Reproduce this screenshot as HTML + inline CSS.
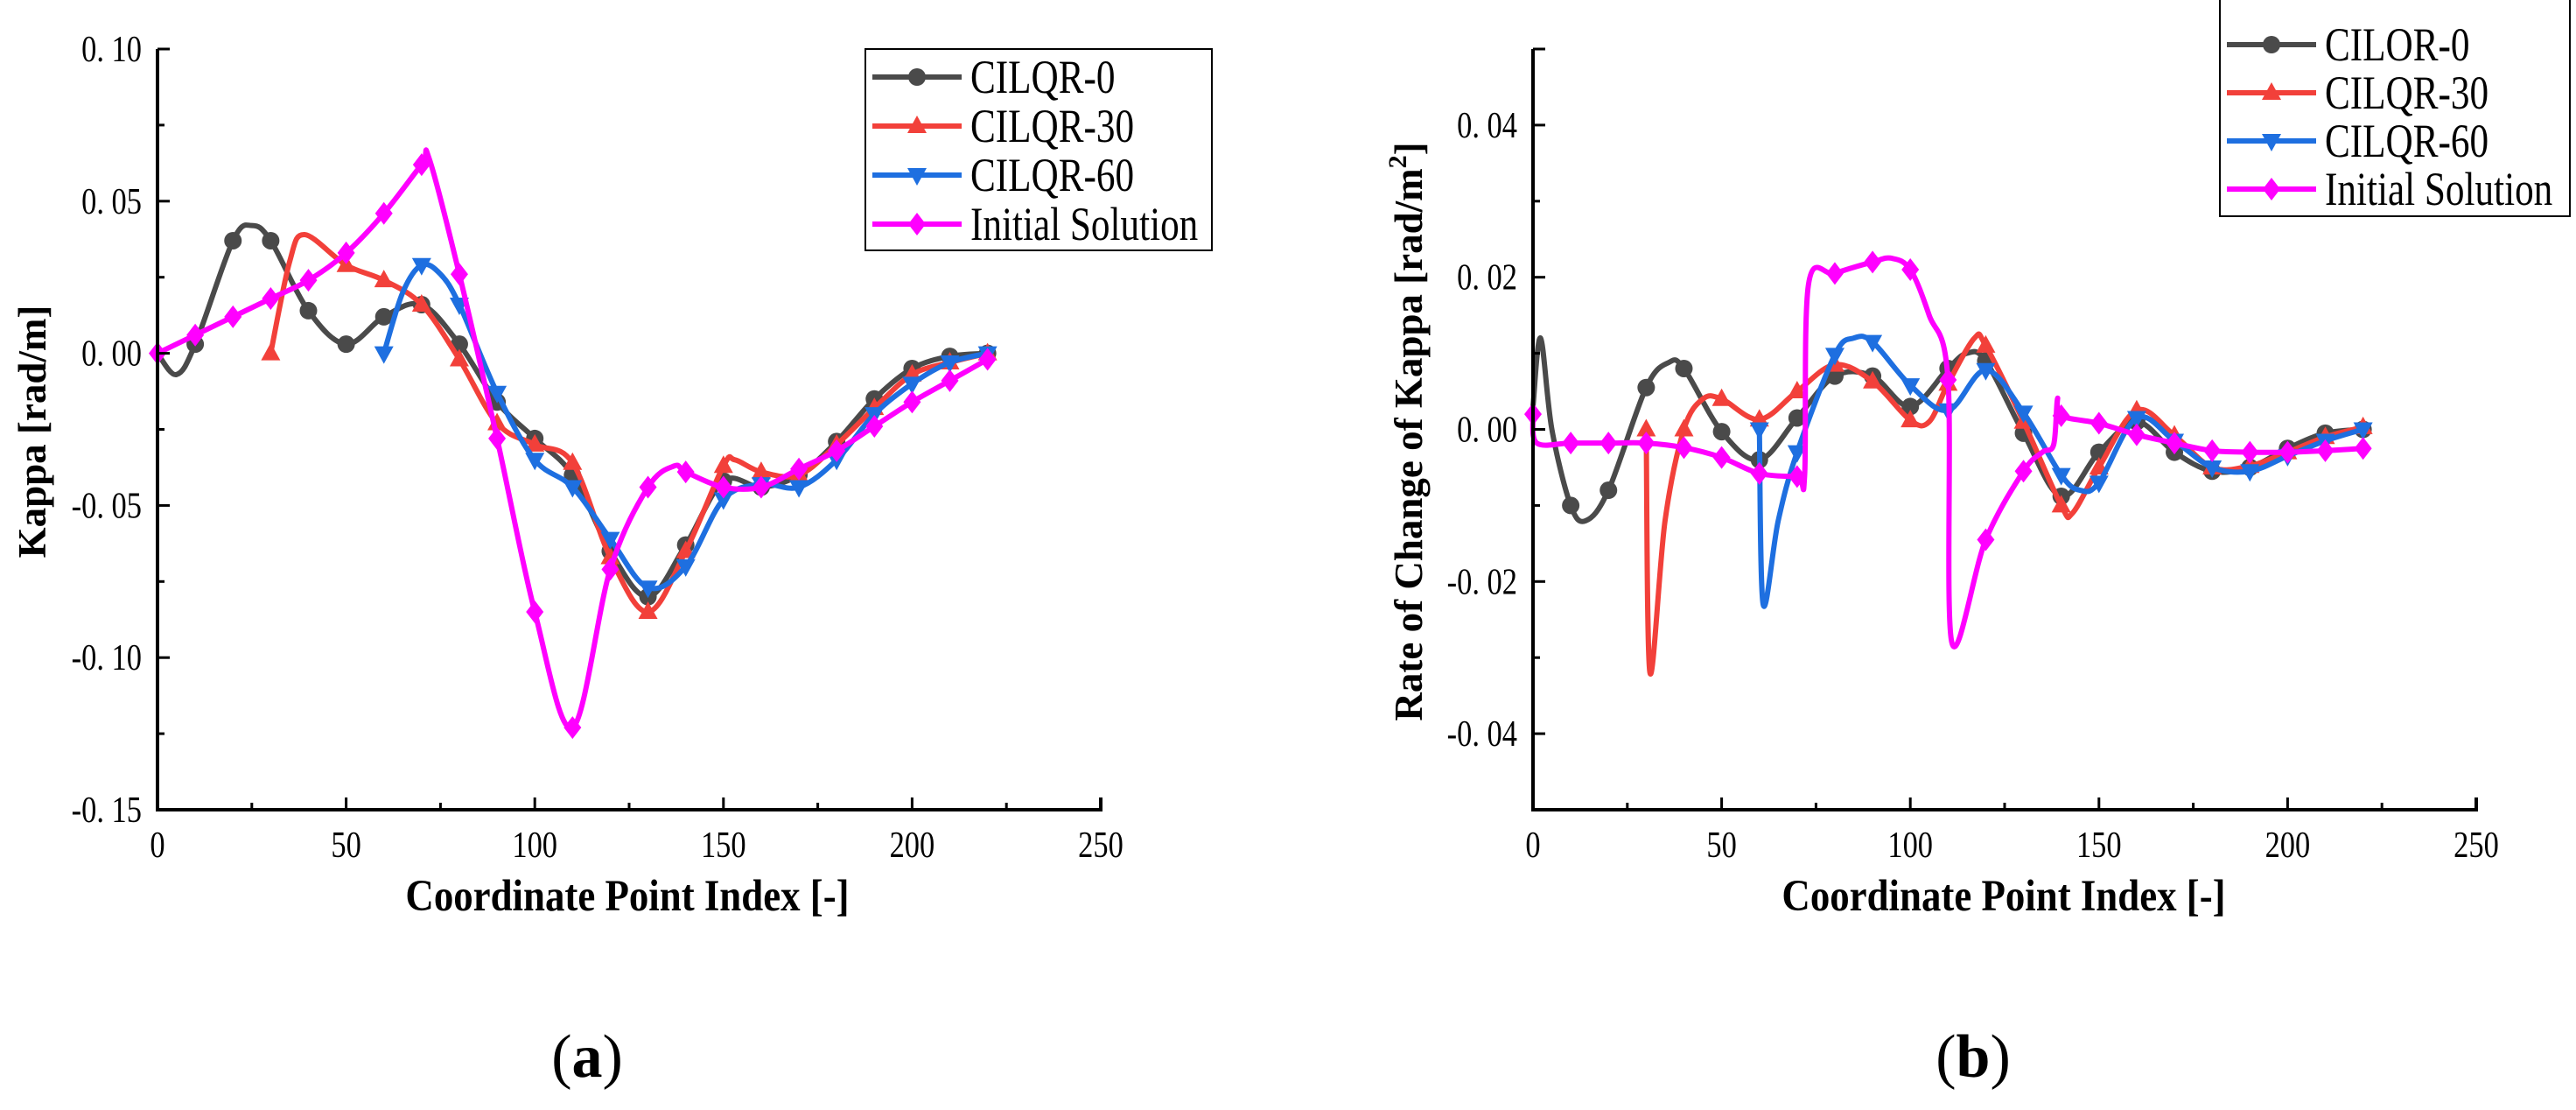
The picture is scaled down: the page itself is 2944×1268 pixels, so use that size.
<!DOCTYPE html>
<html><head><meta charset="utf-8"><style>
html,body{margin:0;padding:0;background:#fff;}
svg{display:block;font-family:"Liberation Serif",serif;}
</style></head><body>
<svg id="fig" width="2944" height="1268" viewBox="0 0 2944 1268" xmlns="http://www.w3.org/2000/svg"></svg>
<script>
// ---- Chart (a) data ----
const aGrayX=[0,5,10,20,25,30,40,50,60,70,80,90,100,110,120,130,140,150,160,170,180,190,200,210,220];
const aGrayY=[0,-0.007,0.003,0.037,0.042,0.037,0.014,0.003,0.012,0.016,0.003,-0.016,-0.028,-0.040,-0.065,-0.080,-0.063,-0.042,-0.044,-0.040,-0.029,-0.015,-0.005,-0.001,0];
const aRedX=[30,35,39,50,60,70,80,90,100,110,120,130,140,150,153,160,170,180,190,200,210,220];
const aRedY=[0,0.030,0.039,0.029,0.024,0.016,-0.002,-0.023,-0.030,-0.036,-0.067,-0.085,-0.065,-0.037,-0.035,-0.039,-0.040,-0.030,-0.018,-0.007,-0.003,0];
const aBlueX=[60,65,70,75,80,90,100,110,120,130,140,150,160,170,180,190,200,210,220];
const aBlueY=[0,0.020,0.029,0.026,0.016,-0.013,-0.035,-0.044,-0.061,-0.077,-0.070,-0.048,-0.043,-0.044,-0.035,-0.020,-0.010,-0.003,0];
const aMagX=[0,10,20,30,40,50,60,70,72,80,90,100,110,120,130,137,140,150,160,170,180,190,200,210,220];
const aMagY=[0,0.006,0.012,0.018,0.024,0.033,0.046,0.062,0.064,0.026,-0.028,-0.085,-0.123,-0.071,-0.044,-0.037,-0.039,-0.044,-0.044,-0.038,-0.032,-0.024,-0.016,-0.009,-0.002];
const aYTicks=[0.10,0.05,0.00,-0.05,-0.10,-0.15];
const aYLabels=["0. 10","0. 05","0. 00","-0. 05","-0. 10","-0. 15"];
// ---- Chart (b) data ----
const bGrayX=[0,2,5,10,14,20,30,36,40,50,60,70,80,90,100,110,115,120,130,140,150,160,170,180,190,200,210,220];
const bGrayY=[0.003,0.012,0.000,-0.010,-0.012,-0.008,0.0055,0.0088,0.008,-0.0003,-0.004,0.0015,0.007,0.007,0.003,0.008,0.010,0.009,-0.0005,-0.0088,-0.003,0.001,-0.003,-0.0055,-0.005,-0.0025,-0.0005,0];
const bRedX=[30,31,35,40,45,50,60,70,80,90,100,105,110,117,120,130,140,143,150,160,170,180,190,200,210,220];
const bRedY=[0,-0.032,-0.012,0.000,0.004,0.004,0.0013,0.005,0.0085,0.0063,0.0012,0.001,0.006,0.012,0.011,0.001,-0.010,-0.011,-0.005,0.0025,-0.0008,-0.005,-0.0048,-0.003,-0.001,0.0003];
const bBlueX=[60,61,65,70,80,85,90,100,110,120,130,140,145,150,160,170,180,190,200,210,220];
const bBlueY=[0,-0.023,-0.012,-0.003,0.0098,0.012,0.0115,0.0058,0.0025,0.0078,0.0022,-0.006,-0.008,-0.007,0.0015,-0.0015,-0.005,-0.0055,-0.0035,-0.0015,0];
const bMagX=[0,1,10,20,30,40,50,60,70,72,73,80,90,95,100,105,110,111,120,130,135,138,139,140,150,160,170,180,190,200,210,220];
const bMagY=[0.002,-0.0018,-0.0018,-0.0018,-0.0018,-0.0024,-0.0037,-0.0058,-0.0062,-0.006,0.019,0.0205,0.022,0.0225,0.021,0.015,0.0065,-0.028,-0.0145,-0.0055,-0.003,-0.002,0.004,0.0018,0.0008,-0.0007,-0.0018,-0.0028,-0.003,-0.003,-0.0028,-0.0025];
const bYTicks=[0.04,0.02,0.00,-0.02,-0.04];
const bYLabels=["0. 04","0. 02","0. 00","-0. 02","-0. 04"];
const xTicks=[0,50,100,150,200,250];
const colors={gray:"#4a4a4a",red:"#f2403a",blue:"#1e6fe0",mag:"#ff00ff"};

const NS="http://www.w3.org/2000/svg";
const svg=document.getElementById('fig');
function mk(tag,attrs,parent){const e=document.createElementNS(NS,tag);for(const k in attrs)e.setAttribute(k,attrs[k]);(parent||svg).appendChild(e);return e;}
function txt(s,attrs,parent){const e=mk('text',attrs,parent);e.textContent=s;return e;}

function smoothPath(pts){
  let d=`M${pts[0][0]},${pts[0][1]}`;
  for(let i=0;i<pts.length-1;i++){
    const p0=pts[Math.max(0,i-1)],p1=pts[i],p2=pts[i+1],p3=pts[Math.min(pts.length-1,i+2)];
    const c1x=p1[0]+(p2[0]-p0[0])/6,c1y=p1[1]+(p2[1]-p0[1])/6;
    const c2x=p2[0]-(p3[0]-p1[0])/6,c2y=p2[1]-(p3[1]-p1[1])/6;
    d+=` C${c1x},${c1y} ${c2x},${c2y} ${p2[0]},${p2[1]}`;
  }
  return d;
}
function marker(g,type,x,y,c){
  let e;
  if(type==='circle'){e=mk('circle',{cx:x,cy:y,r:10,fill:c},g);}
  else if(type==='up'){e=mk('polygon',{points:`${x},${y-12} ${x+11},${y+8} ${x-11},${y+8}`,fill:c},g);}
  else if(type==='down'){e=mk('polygon',{points:`${x},${y+12} ${x+11},${y-8} ${x-11},${y-8}`,fill:c},g);}
  else {e=mk('polygon',{points:`${x},${y-13} ${x+10},${y} ${x},${y+13} ${x-10},${y}`,fill:c},g);}
  return e;
}

function chart(cfg){
  const g=mk('g',{});
  
  
  const sx=v=>cfg.x0+(v-0)/250*(cfg.x1-cfg.x0);
  const sy=v=>cfg.yTop+(cfg.ymax-v)/(cfg.ymax-cfg.ymin)*(cfg.yBot-cfg.yTop);
  cfg.series.forEach(s=>{
    const sg=mk('g',{},g);
    
    
    const pts=s.x.map((v,i)=>[sx(v),sy(s.y[i])]);
    const p=mk('path',{d:smoothPath(pts),fill:'none',stroke:s.color,'stroke-width':6,'stroke-linejoin':'round'},sg);
    
    
    s.x.forEach((v,i)=>{
      if(v%10===0 && v>=s.mstart){
        const m=marker(sg,s.m,sx(v),sy(s.y[i]),s.color);
        
        
      }
    });
  });
  const ax=mk('path',{d:`M${cfg.x0},${cfg.yTop} V${cfg.yBot} H${cfg.x1} V${cfg.yBot-14}`,fill:'none',stroke:'#000','stroke-width':4},g);
  
  
  mk('line',{x1:cfg.x0,y1:cfg.yTop,x2:cfg.x0+14,y2:cfg.yTop,stroke:'#000','stroke-width':3},g);
  xTicks.forEach(t=>{
    mk('line',{x1:sx(t),y1:cfg.yBot,x2:sx(t),y2:cfg.yBot-14,stroke:'#000','stroke-width':3},g);
    if(t+25<250) mk('line',{x1:sx(t+25),y1:cfg.yBot,x2:sx(t+25),y2:cfg.yBot-8,stroke:'#000','stroke-width':3},g);
    const l=txt(String(t),{x:sx(t),y:cfg.yBot+54,'font-size':42,'text-anchor':'middle',transform:`translate(${sx(t)},0) scale(0.82,1) translate(${-sx(t)},0)`},g);
    
    
  });
  cfg.yTicks.forEach((t,i)=>{
    const y=sy(t);
    mk('line',{x1:cfg.x0,y1:y,x2:cfg.x0+14,y2:y,stroke:'#000','stroke-width':3},g);
    const ym=sy(t-cfg.minor);
    if(ym<cfg.yBot-2) mk('line',{x1:cfg.x0,y1:ym,x2:cfg.x0+8,y2:ym,stroke:'#000','stroke-width':3},g);
    const lx=cfg.x0-18;
    const l=txt(cfg.yLabels[i],{x:lx,y:y+14,'font-size':42,'text-anchor':'end',transform:`translate(${lx},0) scale(0.82,1) translate(${-lx},0)`},g);
    
    
  });
  const xt=txt('Coordinate Point Index [-]',{x:cfg.xtx,y:1040,'font-size':51,'font-weight':'bold','text-anchor':'middle',transform:`translate(${cfg.xtx},0) scale(0.88,1) translate(${-cfg.xtx},0)`},g);
  
  
  const yt=mk('text',{x:0,y:0,'font-size':45,'font-weight':'bold','text-anchor':'middle',transform:`translate(${cfg.ytx},${cfg.yty}) rotate(-90)`},g);
  yt.innerHTML=cfg.ytitle;
  
  
  const lg=mk('g',{},g);
  
  
  mk('rect',{x:cfg.lx,y:cfg.ly,width:cfg.lw,height:cfg.lh,fill:'#fff',stroke:'#000','stroke-width':2},lg);
  cfg.series.forEach((s,i)=>{
    const y=cfg.lr0+i*cfg.lstep;
    const e=mk('g',{},lg);
    
    
    mk('line',{x1:cfg.lx+8,y1:y,x2:cfg.lx+110,y2:y,stroke:s.color,'stroke-width':6},e);
    marker(e,s.m,cfg.lx+59,y,s.color);
    const tx=cfg.lx+120;
    txt(s.label,{x:tx,y:y+18,'font-size':54,transform:`translate(${tx},0) scale(0.8,1) translate(${-tx},0)`},e);
  });
}

chart({name:'chart-a',x0:180,x1:1258,yTop:56,yBot:925,ymax:0.10,ymin:-0.15,minor:0.025,
  yTicks:aYTicks,yLabels:aYLabels,xtx:717,ytx:52,yty:493,ytitle:'Kappa [rad/m]',
  lx:989,ly:56,lw:396,lh:230,lr0:88,lstep:56,
  series:[
    {name:'cilqr-0',label:'CILQR-0',x:aGrayX,y:aGrayY,color:colors.gray,m:'circle',mstart:10},
    {name:'cilqr-30',label:'CILQR-30',x:aRedX,y:aRedY,color:colors.red,m:'up',mstart:30},
    {name:'cilqr-60',label:'CILQR-60',x:aBlueX,y:aBlueY,color:colors.blue,m:'down',mstart:60},
    {name:'initial-solution',label:'Initial Solution',x:aMagX,y:aMagY,color:colors.mag,m:'diamond',mstart:0}]});
chart({name:'chart-b',x0:1752,x1:2830,yTop:56,yBot:925,ymax:0.05,ymin:-0.05,minor:0.01,
  yTicks:bYTicks,yLabels:bYLabels,xtx:2290,ytx:1625,yty:493,ytitle:'Rate of Change of Kappa [rad/m<tspan dy="-18" font-size="30">2</tspan><tspan dy="18">]</tspan>',
  lx:2537,ly:-2,lw:400,lh:249,lr0:51,lstep:55,
  series:[
    {name:'cilor-0',label:'CILOR-0',x:bGrayX,y:bGrayY,color:colors.gray,m:'circle',mstart:10},
    {name:'cilqr-30',label:'CILQR-30',x:bRedX,y:bRedY,color:colors.red,m:'up',mstart:30},
    {name:'cilqr-60',label:'CILQR-60',x:bBlueX,y:bBlueY,color:colors.blue,m:'down',mstart:60},
    {name:'initial-solution',label:'Initial Solution',x:bMagX,y:bMagY,color:colors.mag,m:'diamond',mstart:0}]});

const la=txt('(',{x:671,y:1230,'font-size':70,'text-anchor':'middle'});
la.innerHTML='(<tspan font-weight="bold">a</tspan>)';


const lb=txt('(',{x:2255,y:1230,'font-size':70,'text-anchor':'middle'});
lb.innerHTML='(<tspan font-weight="bold">b</tspan>)';


</script>
</body></html>
